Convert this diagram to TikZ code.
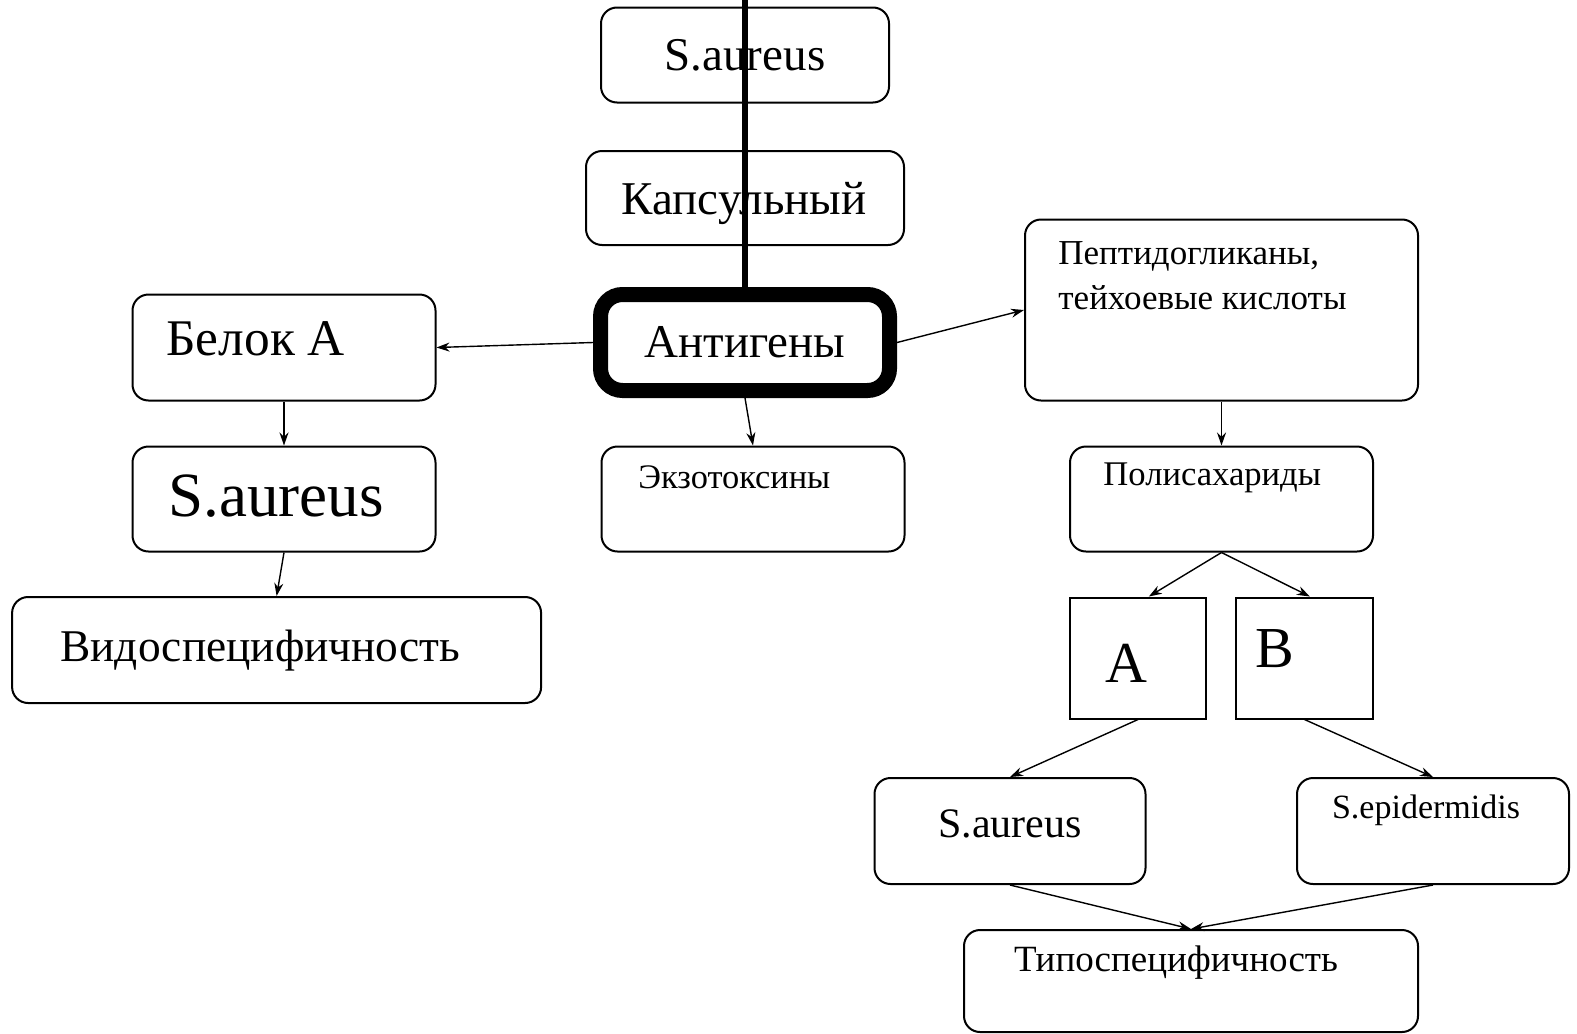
\documentclass[tikz,border=0pt]{standalone}
\usepackage{fontspec}
\setmainfont{Liberation Serif}
\usetikzlibrary{arrows.meta,calc}

\begin{document}
\begin{tikzpicture}[x=0.5pt, y=-0.5pt,
    box/.style={draw, rounded corners=8pt, line width=1pt, inner sep=0pt},
    sqbox/.style={draw, line width=1pt, inner sep=0pt},
    lbl/.style={inner sep=0pt},
    arr/.style={-{Stealth[length=6.5pt,width=4.5pt]}, line width=0.7pt}]
\useasboundingbox (0,0) rectangle (1577,1033);

% centre column
\node[box, minimum width=144pt, minimum height=47.5pt, font=\fontsize{23.5}{28}\selectfont] (saurtop) at (745,55) {S.aureus};
\node[box, minimum width=159pt, minimum height=47pt] (kaps) at (745,198) {};
\node[lbl, font=\fontsize{23.5}{28}\selectfont] (kapst) at (744,203) {Капсульный};
\node[draw, rounded corners=11pt, line width=7.5pt, inner sep=0pt, minimum width=144.5pt, minimum height=48pt, font=\fontsize{23.5}{28}\selectfont] (ant) at (745,342.5) {Антигены};
\node[box, minimum width=151.5pt, minimum height=52.5pt] (exo) at (753,499) {};
\node[lbl, anchor=west, font=\fontsize{17.2}{20}\selectfont] (exot) at (638,477) {Экзотоксины};

% left column
\node[box, minimum width=151.5pt, minimum height=53pt] (belok) at (284,347.5) {};
\node[lbl, anchor=west, font=\fontsize{25.7}{30}\selectfont] (belokt) at (166,339) {Белок А};
\node[box, minimum width=151.5pt, minimum height=52.5pt] (saurl) at (284,499) {};
\node[lbl, anchor=west, font=\fontsize{31.5}{36}\selectfont] (saurlt) at (168,496) {S.aureus};
\node[box, minimum width=264.5pt, minimum height=53pt] (vid) at (276.6,650) {};
\node[lbl, anchor=west, font=\fontsize{22.7}{27}\selectfont] (vidt) at (60,651) {Видоспецифичность};

% right column
\node[box, minimum width=196.5pt, minimum height=90.5pt] (pept) at (1221.5,310) {};
\node[lbl, anchor=west, align=left, font=\fontsize{17.5}{22.5}\selectfont] (peptt) at (1058,276) {Пептидогликаны,\\тейхоевые кислоты};
\node[box, minimum width=151.5pt, minimum height=52.5pt] (pol) at (1221.5,499) {};
\node[lbl, anchor=west, font=\fontsize{17.3}{20}\selectfont] (polt) at (1103,478) {Полисахариды};
\node[sqbox, minimum width=68pt, minimum height=60.5pt] (ba) at (1138,658) {};
\node[lbl, font=\fontsize{29}{34}\selectfont] (bat) at (1126,663) {A};
\node[sqbox, minimum width=68.5pt, minimum height=60.5pt] (bb) at (1304.5,658) {};
\node[lbl, font=\fontsize{29}{34}\selectfont] (bbt) at (1275,649) {B};
\node[box, minimum width=135.5pt, minimum height=53pt] (sab) at (1010,831) {};
\node[lbl, font=\fontsize{21}{25}\selectfont] (sabt) at (1010,824) {S.aureus};
\node[box, minimum width=136pt, minimum height=53pt] (sep) at (1433,831) {};
\node[lbl, font=\fontsize{17}{20}\selectfont] (sept) at (1426,810) {S.epidermidis};
\node[box, minimum width=227pt, minimum height=51pt] (typ) at (1191,981) {};
\node[lbl, font=\fontsize{18.5}{22}\selectfont] (typt) at (1176,963) {Типоспецифичность};

% connectors
\coordinate (topend) at (745,0);
\draw[line width=2.6pt] (topend) -- (ant.north);
\draw[arr] (ant.west) -- (belok.east);
\draw[arr] (ant.east) -- (pept.west);
\draw[arr] (ant.south) -- (exo.north);
\draw[arr] (belok.south) -- (saurl.north);
\draw[arr] (saurl.south) -- (vid.north);
\draw[arr] (pept.south) -- (pol.north);
\draw[arr] (pol.south) -- (ba.80);
\draw[arr] (pol.south) -- (bb.85);
\draw[arr] (ba.south) -- (sab.north);
\draw[arr] (bb.south) -- (sep.north);
\draw[arr] (sab.south) -- (typ.north);
\draw[arr] (sep.south) -- (typ.north);
\end{tikzpicture}
\end{document}
